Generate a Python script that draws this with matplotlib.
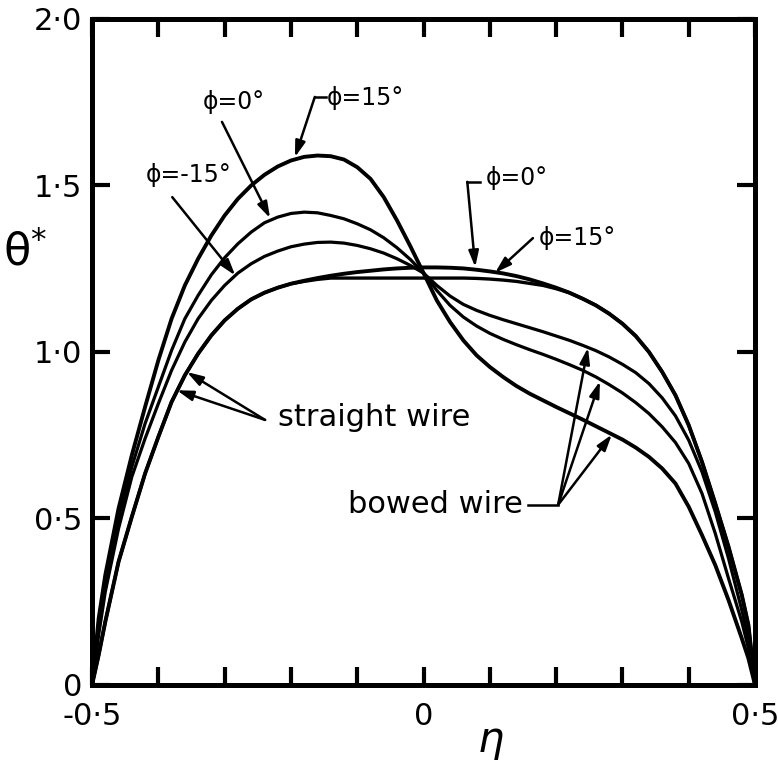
import numpy as np
import matplotlib
matplotlib.use("Agg")
from matplotlib import pyplot as plt

plt.rcParams['font.family'] = ['DejaVu Sans']

eta = [-0.50, -0.49, -0.48, -0.46, -0.44, -0.42, -0.40, -0.38, -0.36, -0.34,
       -0.32, -0.30, -0.28, -0.26, -0.24, -0.22, -0.20, -0.18, -0.16, -0.14,
       -0.12, -0.10, -0.08, -0.06, -0.04, -0.02, 0.00, 0.02, 0.04, 0.06,
       0.08, 0.10, 0.12, 0.14, 0.16, 0.18, 0.20, 0.22, 0.24, 0.26,
       0.28, 0.30, 0.32, 0.34, 0.36, 0.38, 0.40, 0.42, 0.44, 0.46,
       0.48, 0.49, 0.50]

# straight wire, phi = 0 and 15 deg
straight_0 = [0.00, 0.09, 0.19, 0.37, 0.505, 0.635, 0.745, 0.85, 0.93, 0.995,
              1.05, 1.095, 1.13, 1.158, 1.178, 1.193, 1.205, 1.214, 1.222, 1.229,
              1.235, 1.24, 1.244, 1.248, 1.251, 1.253, 1.254, 1.254, 1.253, 1.251,
              1.247, 1.242, 1.236, 1.228, 1.218, 1.206, 1.193, 1.178, 1.16, 1.14,
              1.115, 1.085, 1.048, 1.0, 0.94, 0.87, 0.78, 0.67, 0.545, 0.415,
              0.27, 0.18, 0.00]
straight_15 = [0.00, 0.09, 0.19, 0.37, 0.505, 0.635, 0.745, 0.85, 0.93, 0.995,
               1.05, 1.095, 1.13, 1.158, 1.178, 1.193, 1.205, 1.212, 1.218, 1.222,
               1.222, 1.222, 1.222, 1.222, 1.222, 1.222, 1.222, 1.222, 1.222, 1.222,
               1.221, 1.219, 1.216, 1.212, 1.206, 1.2, 1.19, 1.178, 1.16, 1.14,
               1.115, 1.085, 1.048, 1.0, 0.94, 0.87, 0.78, 0.67, 0.545, 0.415,
               0.27, 0.18, 0.00]

# bowed wire, phi = -15, 0, 15 deg
bowed_m15 = [0.00, 0.15, 0.28, 0.47, 0.625, 0.74, 0.845, 0.945, 1.03, 1.10,
             1.155, 1.20, 1.237, 1.265, 1.287, 1.303, 1.316, 1.324, 1.329, 1.33,
             1.327, 1.32, 1.31, 1.297, 1.28, 1.26, 1.237, 1.2, 1.168, 1.143,
             1.125, 1.11, 1.097, 1.085, 1.073, 1.061, 1.048, 1.035, 1.02, 1.004,
             0.985, 0.963, 0.938, 0.905, 0.862, 0.808, 0.735, 0.64, 0.52, 0.38,
             0.225, 0.14, 0.00]
bowed_0 = [0.00, 0.17, 0.30, 0.50, 0.655, 0.785, 0.895, 1.005, 1.10, 1.17,
           1.232, 1.283, 1.325, 1.36, 1.388, 1.405, 1.416, 1.42, 1.418, 1.41,
           1.40, 1.385, 1.367, 1.343, 1.313, 1.278, 1.237, 1.185, 1.14, 1.105,
           1.078, 1.056, 1.038, 1.022, 1.007, 0.993, 0.978, 0.962, 0.945, 0.925,
           0.902, 0.877, 0.848, 0.815, 0.775, 0.728, 0.665, 0.575, 0.455, 0.32,
           0.19, 0.11, 0.00]
bowed_15 = [0.00, 0.20, 0.33, 0.53, 0.69, 0.835, 0.975, 1.10, 1.20, 1.28,
            1.35, 1.41, 1.46, 1.50, 1.532, 1.557, 1.575, 1.586, 1.59, 1.588,
            1.578, 1.555, 1.52, 1.465, 1.395, 1.318, 1.237, 1.155, 1.09, 1.035,
            0.99, 0.955, 0.925, 0.898, 0.875, 0.855, 0.835, 0.816, 0.797, 0.777,
            0.757, 0.737, 0.713, 0.685, 0.65, 0.605, 0.535, 0.45, 0.36, 0.255,
            0.14, 0.08, 0.00]

x_ticks = [-0.5, -0.4, -0.3, -0.2, -0.1, 0.0, 0.1, 0.2, 0.3, 0.4, 0.5]
x_labels = ['-0·5', '', '', '', '', '0', '', '', '', '', '0·5']
y_ticks = [0.0, 0.5, 1.0, 1.5, 2.0]
y_labels = ['0', '0·5', '1·0', '1·5', '2·0']

fig = plt.figure(figsize=(7.78, 7.60), dpi=100)
ax = fig.add_axes([0.1183, 0.0987, 0.8522, 0.8763])

for ys, lw in [(straight_0, 2.8), (straight_15, 2.4), (bowed_m15, 2.3),
               (bowed_0, 2.3), (bowed_15, 2.8)]:
    ax.plot(eta, ys, color='k', lw=lw, solid_capstyle='round',
            solid_joinstyle='round')

ax.set_xlim(-0.5, 0.5)
ax.set_ylim(0, 2.0)
ax.set_xticks(x_ticks)
ax.set_xticklabels(x_labels)
ax.set_yticks(y_ticks)
ax.set_yticklabels(y_labels)
ax.tick_params(direction='in', top=True, right=True, length=13, width=3,
               labelsize=22)
ax.tick_params(axis='x', pad=12)
ax.tick_params(axis='y', pad=7)
for s in ax.spines.values():
    s.set_linewidth(3.6)

ax.text(-0.101, 0.65, 'θ$^{*}$', transform=ax.transAxes, fontsize=32,
        ha='center', va='center')
ax.text(0.602, -0.083, 'η', transform=ax.transAxes, fontsize=30,
        ha='center', va='center', style='italic')

arrow = dict(arrowstyle='-|>,head_length=0.8,head_width=0.25', color='k',
             lw=1.8, mutation_scale=12, shrinkA=0, shrinkB=0)
lab = dict(fontsize=17, ha='center', va='center')

# left side phi labels
ax.text(-0.286, 1.751, 'ϕ=0°', **lab)
ax.annotate('', xy=(-0.2315, 1.402), xytext=(-0.304, 1.691), arrowprops=arrow)
ax.text(-0.088, 1.763, 'ϕ=15°', **lab)
ax.plot([-0.147, -0.164], [1.766, 1.766], color='k', lw=1.8)
ax.annotate('', xy=(-0.194, 1.585), xytext=(-0.164, 1.766), arrowprops=arrow)
ax.text(-0.355, 1.532, 'ϕ=-15°', **lab)
ax.annotate('', xy=(-0.284, 1.23), xytext=(-0.379, 1.465), arrowprops=arrow)

# right side phi labels
ax.text(0.141, 1.523, 'ϕ=0°', **lab)
ax.plot([0.085, 0.066], [1.511, 1.511], color='k', lw=1.8)
ax.annotate('', xy=(0.078, 1.255), xytext=(0.066, 1.511), arrowprops=arrow)
ax.text(0.2315, 1.342, 'ϕ=15°', **lab)
ax.annotate('', xy=(0.108, 1.238), xytext=(0.165, 1.342), arrowprops=arrow)

# straight wire
ax.text(-0.219, 0.802, 'straight wire', fontsize=22, ha='left', va='center')
for tip in [(-0.357, 0.94), (-0.372, 0.885)]:
    ax.annotate('', xy=tip, xytext=(-0.239, 0.796), arrowprops=arrow)

# bowed wire
ax.text(0.150, 0.541, 'bowed wire', fontsize=22, ha='right', va='center')
ax.plot([0.158, 0.203], [0.541, 0.541], color='k', lw=1.8)
for tip in [(0.248, 1.013), (0.266, 0.912), (0.284, 0.752)]:
    ax.annotate('', xy=tip, xytext=(0.203, 0.541), arrowprops=arrow)

fig.savefig('out.png', dpi=100)
